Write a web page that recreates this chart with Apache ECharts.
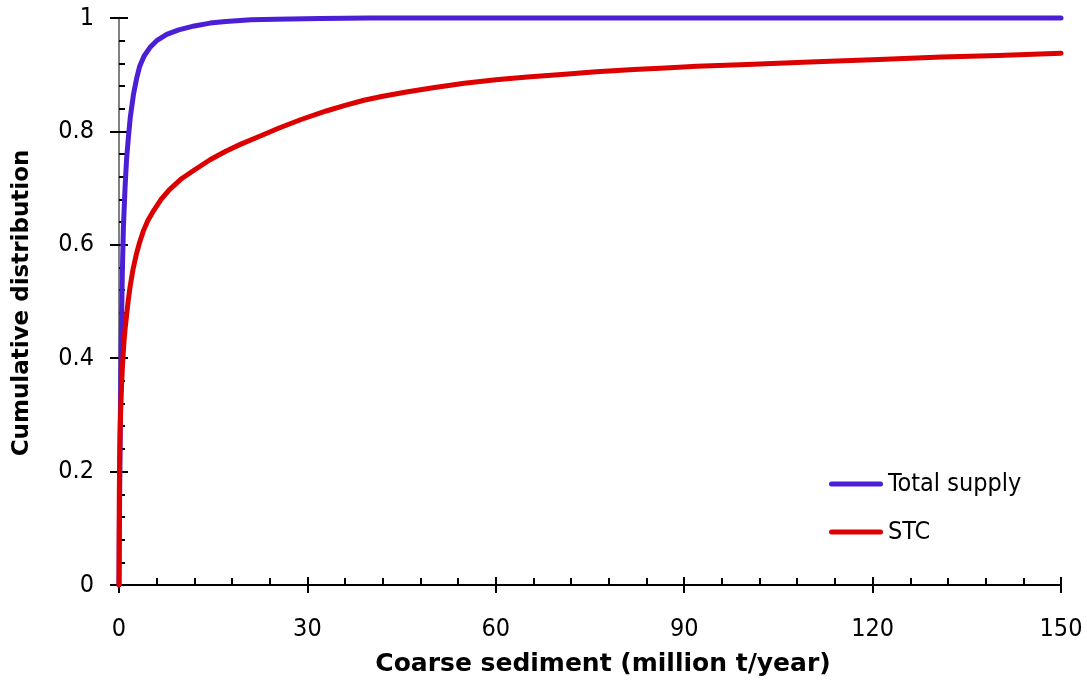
<!DOCTYPE html>
<html>
<head>
<meta charset="utf-8">
<script src="https://cdn.jsdelivr.net/npm/echarts@6/dist/echarts.min.js"></script>
<style>
html,body{margin:0;padding:0;background:#fff;}
#chart{width:1087px;height:684px;}
</style>
</head>
<body>
<div id="chart"></div>
<script>
// ---- data ----
const xTitle = 'Coarse sediment (million t/year)';
const yTitle = 'Cumulative distribution';
const seriesNames = ['Total supply', 'STC'];
const totalSupplyX = [0, 0.05, 0.1, 0.2, 0.3, 0.4, 0.53, 0.7, 0.96, 1.2, 1.5, 1.8, 2.3, 2.8, 3.3, 4, 5, 6, 7.6, 9.5, 12, 14.5, 17, 21, 25, 32, 40, 150];
const totalSupplyY = [0, 0.08, 0.15, 0.28, 0.38, 0.46, 0.55, 0.63, 0.70, 0.75, 0.79, 0.825, 0.865, 0.893, 0.915, 0.933, 0.949, 0.96, 0.971, 0.979, 0.986, 0.991, 0.994, 0.997, 0.998, 0.999, 1.0, 1.0];
const stcX = [0, 0.02, 0.05, 0.1, 0.15, 0.22, 0.3, 0.4, 0.5, 0.65, 0.8, 1.0, 1.2, 1.45, 1.75, 2.2, 2.8, 3.3, 3.9, 4.6, 5.5, 6.7, 8, 10, 12, 14.5, 17, 19.5, 22.5, 25.5, 29, 33, 36, 39, 42, 46, 50, 55, 60, 65, 71, 76, 82, 87, 92, 100, 111, 121, 131, 140, 150];
const stcY = [0, 0.1, 0.16, 0.22, 0.255, 0.29, 0.32, 0.35, 0.375, 0.405, 0.43, 0.455, 0.475, 0.5, 0.525, 0.555, 0.585, 0.605, 0.625, 0.643, 0.66, 0.68, 0.697, 0.717, 0.732, 0.75, 0.765, 0.778, 0.792, 0.806, 0.821, 0.836, 0.846, 0.855, 0.862, 0.870, 0.877, 0.885, 0.891, 0.896, 0.901, 0.905, 0.909, 0.912, 0.915, 0.918, 0.923, 0.927, 0.931, 0.934, 0.938];
const xMin = 0, xMax = 150, xStep = 30;
const yMin = 0, yMax = 1, yStep = 0.2;

const FONT = '"DejaVu Sans Condensed", "DejaVu Sans", sans-serif';
const pair = (xs, ys) => xs.map((x, i) => [x, ys[i]]);
const BLUE = '#4B1FD6', RED = '#DD0000';

const chart = echarts.init(document.getElementById('chart'), null, {renderer: 'canvas'});
const baseX = {type: 'value', min: xMin, max: xMax, interval: xStep, gridIndex: 0};
const baseY = {type: 'value', min: yMin, max: yMax, interval: yStep, gridIndex: 0};
const legendIcon = 'path://M2.5,0 H51.5 A2.5,2.5 0 0 1 51.5,5 H2.5 A2.5,2.5 0 0 1 2.5,0 Z';
const option = {
  animation: false,
  backgroundColor: '#fff',
  grid: {left: 119, right: 26, top: 18, bottom: 99, containLabel: false},
  xAxis: [
    Object.assign({}, baseX, {
      position: 'bottom',
      axisLine: {show: true, lineStyle: {color: '#000', width: 2}},
      axisTick: {show: true, inside: true, length: 8, lineStyle: {color: '#000', width: 2}},
      minorTick: {show: true, splitNumber: 5, length: 7, lineStyle: {color: '#000', width: 2}},
      splitLine: {show: false},
      axisLabel: {show: true, margin: 32, color: '#000', fontFamily: FONT, fontSize: 25}
    }),
    Object.assign({}, baseX, {
      position: 'bottom',
      axisLine: {show: false},
      axisTick: {show: true, inside: false, length: 8, lineStyle: {color: '#000', width: 2}},
      splitLine: {show: false},
      axisLabel: {show: false}
    }),
    Object.assign({}, baseX, {
      position: 'top',
      axisLine: {show: true, lineStyle: {color: '#000', width: 1}},
      axisTick: {show: false},
      splitLine: {show: false},
      axisLabel: {show: false}
    })
  ],
  yAxis: [
    Object.assign({}, baseY, {
      position: 'left',
      axisLine: {show: true, lineStyle: {color: '#000', width: 2}},
      axisTick: {show: true, inside: true, length: 9, lineStyle: {color: '#000', width: 2}},
      minorTick: {show: true, splitNumber: 5, length: 6, lineStyle: {color: '#000', width: 2}},
      splitLine: {show: false},
      axisLabel: {show: true, margin: 25, color: '#000', fontFamily: FONT, fontSize: 25}
    }),
    Object.assign({}, baseY, {
      position: 'left',
      axisLine: {show: false},
      axisTick: {show: true, inside: false, length: 9, lineStyle: {color: '#000', width: 2}},
      splitLine: {show: false},
      axisLabel: {show: false}
    }),
    Object.assign({}, baseY, {
      position: 'right',
      axisLine: {show: true, lineStyle: {color: '#808080', width: 2}},
      axisTick: {show: false},
      splitLine: {show: false},
      axisLabel: {show: false}
    })
  ],
  legend: {
    orient: 'vertical',
    left: 829,
    top: 471,
    padding: 0,
    itemWidth: 54,
    itemHeight: 5,
    itemGap: 22,
    textStyle: {color: '#000', fontFamily: FONT, fontSize: 25, lineHeight: 26},
    data: seriesNames.map(n => ({name: n, icon: legendIcon}))
  },
  graphic: [
    {type: 'text', x: 603, y: 664, style: {text: xTitle, font: 'bold 25px "DejaVu Sans"', fill: '#000', align: 'center', verticalAlign: 'middle'}},
    {type: 'text', x: 22, y: 303, rotation: Math.PI / 2, style: {text: yTitle, font: 'bold 23px "DejaVu Sans"', fill: '#000', align: 'center', verticalAlign: 'middle'}}
  ],
  series: [
    {
      name: seriesNames[0], type: 'line', xAxisIndex: 0, yAxisIndex: 0,
      data: pair(totalSupplyX, totalSupplyY),
      showSymbol: false, symbol: 'none', smooth: false, clip: false,
      lineStyle: {color: BLUE, width: 5, cap: 'round', join: 'round'},
      itemStyle: {color: BLUE},
      z: 3
    },
    {
      name: seriesNames[1], type: 'line', xAxisIndex: 0, yAxisIndex: 0,
      data: pair(stcX, stcY),
      showSymbol: false, symbol: 'none', smooth: false, clip: false,
      lineStyle: {color: RED, width: 5, cap: 'round', join: 'round'},
      itemStyle: {color: RED},
      z: 4
    }
  ]
};
chart.setOption(option);
</script>
</body>
</html>
